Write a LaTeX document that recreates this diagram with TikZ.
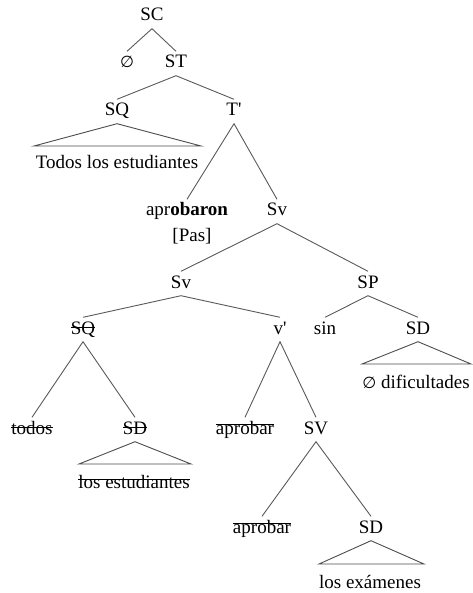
\documentclass[tikz,border=0pt]{standalone}
\usepackage{fontspec}
\setmainfont{Liberation Serif}
\newfontfamily\symf{DejaVu Sans}
\newcommand\nul{{\symf\fontsize{16}{19}\selectfont ∅}}
\newsavebox\strkbox
\newcommand\strk[2][0.3em]{\sbox\strkbox{#2}\usebox\strkbox\kern-\wd\strkbox\rule[#1]{\wd\strkbox}{0.07em}}
\begin{document}
\begin{tikzpicture}[x=1pt,y=-1pt,
  lbl/.style={anchor=base,inner xsep=1pt,inner ysep=3.5pt,text height=13pt,text depth=4pt,font=\fontsize{19}{21}\selectfont},
  br/.style={draw=black!65,line width=0.9pt},
  tri/.style={draw=black!70,line width=0.9pt,line join=miter}]
\useasboundingbox (0,0) rectangle (472,593);
% nodes
\node[lbl] (SC) at (152,21) {SC};
\node[lbl] (C) at (127,68) {\nul};
\node[lbl] (ST) at (176,68) {ST};
\node[lbl] (SQa) at (117,116) {SQ};
\node[lbl] (Tb) at (234,116) {T\textquotesingle};
\node[lbl] (todosA) at (117,169) {Todos los estudiantes};
\node[lbl] (apr) at (187,216) {apr\textbf{obaron}};
\node[lbl] (pas) at (192,241) {[Pas]};
\node[lbl] (Sva) at (277,216) {Sv};
\node[lbl] (Svb) at (181,288) {Sv};
\node[lbl] (SP) at (368,288) {SP};
\node[lbl] (SQb) at (83,334) {\strk[0.32em]{SQ}};
\node[lbl] (vb) at (280,334) {v\textquotesingle};
\node[lbl] (sin) at (325,334) {sin};
\node[lbl] (SDa) at (418,334) {SD};
\node[lbl] (dif) at (416,388) {\nul\ dificultades};
\node[lbl] (todos) at (32,434) {\strk[0.3em]{todos}};
\node[lbl] (SDb) at (135,434) {\strk[0.32em]{SD}};
\node[lbl] (losest) at (134,488) {\strk[0.42em]{los estudiantes}};
\node[lbl] (aprA) at (245,434) {\strk[0.45em]{aprobar}};
\node[lbl] (SV) at (316,434) {SV};
\node[lbl] (aprB) at (262,533) {\strk[0.45em]{aprobar}};
\node[lbl] (SDc) at (371,533) {SD};
\node[lbl] (exam) at (370,588) {los exámenes};
% triangle base corners
\coordinate (t1l) at (34,146);  \coordinate (t1r) at (201,146);
\coordinate (t2l) at (362,364); \coordinate (t2r) at (471,364);
\coordinate (t3l) at (79,464);  \coordinate (t3r) at (191,464);
\coordinate (t4l) at (319,564); \coordinate (t4r) at (424,564);
% branches
\draw[br] (C.north) -- (SC.south) -- (ST.north);
\draw[br] (SQa.north) -- (ST.south) -- (Tb.north);
\draw[br] (apr.north) -- (Tb.south) -- (Sva.north);
\draw[br] (Svb.north) -- (Sva.south) -- (SP.north);
\draw[br] (SQb.north) -- (Svb.south) -- (vb.north);
\draw[br] (sin.north) -- (SP.south) -- (SDa.north);
\draw[br] (todos.north) -- (SQb.south) -- (SDb.north);
\draw[br] (aprA.north) -- (vb.south) -- (SV.north);
\draw[br] (aprB.north) -- (SV.south) -- (SDc.north);
% triangles
\draw[tri] (SQa.south) -- (t1l) -- (t1r) -- cycle;
\draw[tri] (SDa.south) -- (t2l) -- (t2r) -- cycle;
\draw[tri] (SDb.south) -- (t3l) -- (t3r) -- cycle;
\draw[tri] (SDc.south) -- (t4l) -- (t4r) -- cycle;
\end{tikzpicture}
\end{document}
